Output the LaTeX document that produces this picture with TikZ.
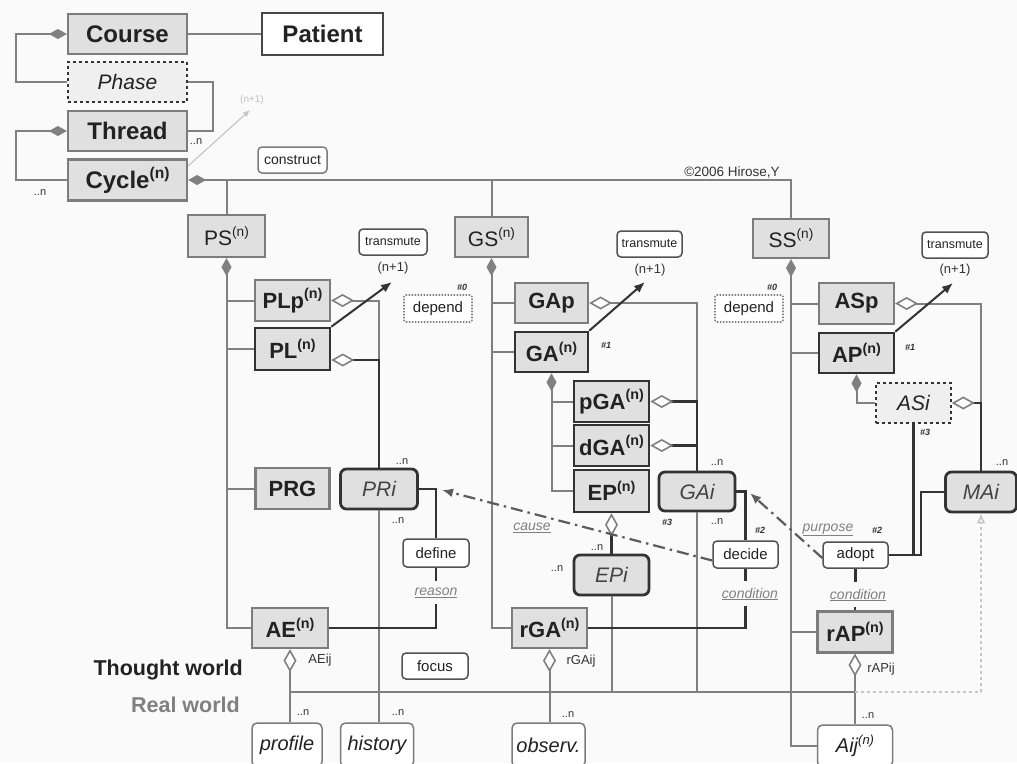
\documentclass[tikz,border=0pt]{standalone}
\usepackage{fontspec}
\setmainfont{Liberation Sans}
\usetikzlibrary{arrows.meta}
\definecolor{bg}{HTML}{FAFAFA}
\definecolor{boxfill}{HTML}{E0E0E0}
\definecolor{bdgray}{HTML}{7C7C7C}
\definecolor{dark}{HTML}{333333}
\definecolor{lgray}{HTML}{808080}
\definecolor{txt}{HTML}{222222}
\newcommand\supn{\raisebox{.42em}{\scalebox{.65}{(n)}}}
\tikzset{
  gbox/.style={rectangle, draw=bdgray, fill=boxfill, line width=2.2pt, inner sep=0pt, text=txt, font=\fontsize{22}{24}\selectfont\bfseries},
  dbox/.style={gbox, draw=dark, line width=2.6pt},
  rbox/.style={gbox, font=\fontsize{21}{23}\selectfont},
  ibox/.style={rectangle, rounded corners=6pt, draw=dark, line width=2.8pt, fill=boxfill, inner sep=0pt, text=txt!85, font=\fontsize{21}{23}\selectfont\itshape},
  wbox/.style={rectangle, rounded corners=5pt, draw=bdgray, line width=1.5pt, fill=white, inner sep=0pt, text=txt, font=\fontsize{20}{22}\selectfont\itshape},
  sbox/.style={rectangle, rounded corners=4pt, draw=dark!85, line width=1.5pt, fill=white, inner sep=0pt, text=txt, font=\fontsize{15}{16}\selectfont},
  dpbox/.style={sbox, rounded corners=2pt, draw=lgray, dash pattern=on 1.5pt off 1.5pt, line width=1.6pt},
  tline/.style={draw=lgray, line width=2pt},
  kline/.style={draw=dark, line width=2.8pt},
  fd/.style={-{Diamond[length=18pt,width=10pt,fill=lgray,color=lgray]}},
  od/.style={{Diamond[open,length=23pt,width=13pt,fill=white,color=lgray,line width=1.6pt]}-},
  nlab/.style={inner sep=0pt, text=dark, font=\fontsize{11}{11}\selectfont},
  hlab/.style={inner sep=0pt, text=dark, font=\fontsize{9}{9}\selectfont\bfseries\itshape},
  ulab/.style={inner sep=1pt, text=lgray, font=\fontsize{14}{15}\selectfont\itshape},
  ddot/.style={draw=dark!80, line width=2.2pt, dash pattern=on 12pt off 5pt on 2.5pt off 5pt, -{Latex[length=11pt,width=9pt]}},
  tarr/.style={draw=dark, line width=2pt, -{Latex[length=11pt,width=9pt]}},
}
\begin{document}
\begin{tikzpicture}[x=1pt,y=-1pt]
\fill[bg] (0,0) rectangle (1017,763);
\useasboundingbox (0,0) rectangle (1017,763);

% ---------- top left ----------
\node[gbox, font=\fontsize{24}{26}\selectfont\bfseries, minimum width=119pt, minimum height=40pt] (course) at (127.5,34) {Course};
\node[gbox, draw=dark!90, fill=white, font=\fontsize{24}{26}\selectfont\bfseries, minimum width=121pt, minimum height=42pt] (patient) at (322.5,34) {Patient};
\node[gbox, draw=dark, dashed, line width=1.6pt, fill=boxfill!50, font=\fontsize{21}{23}\selectfont\itshape, minimum width=119pt, minimum height=40pt] (phase) at (127.5,82) {Phase};
\node[gbox, font=\fontsize{24}{26}\selectfont\bfseries, minimum width=119pt, minimum height=40pt] (thread) at (127.5,131) {Thread};
\node[gbox, font=\fontsize{24}{26}\selectfont\bfseries, minimum width=119pt, minimum height=41pt] (cycle) at (127.5,180) {Cycle\supn};

\draw[tline] (course.east) -- (patient.west);
\draw[tline, fd] (phase.west) -- ++(-51,0) |- (course.west);
\draw[tline] (phase.east) -- ++(25,0) |- (thread.east);
\draw[tline, fd] (cycle.west) -- ++(-51,0) |- (thread.west);
\node[nlab] (n1) at (196,142) {..n};
\node[nlab] (n2) at (40,193) {..n};
\coordinate (cn1) at (250,110);
\draw[draw=gray!45, line width=1.2pt, -{Latex[length=7pt,width=6pt]}] ([yshift=14pt]cycle.east) -- (cn1);
\node[nlab, text=gray!50, font=\fontsize{10}{10}\selectfont] (cnl) at (252,100) {(n+1)};
\node[sbox, draw=bdgray, minimum width=69pt, minimum height=26pt, font=\fontsize{14}{15}\selectfont] (construct) at (292.5,160) {construct};
\node[inner sep=0pt, text=dark, font=\fontsize{13.5}{14}\selectfont] (copy) at (732,172) {©2006 Hirose,Y};

% ---------- stage boxes ----------
\node[rbox, minimum width=77pt, minimum height=42pt] (ps) at (226.5,236) {PS\supn};
\node[rbox, minimum width=73pt, minimum height=40pt] (gs) at (491.5,237) {GS\supn};
\node[rbox, minimum width=76pt, minimum height=39pt] (ss) at (791,238.5) {SS\supn};
\draw[tline, fd] (ss.north) |- (cycle.east);
\draw[tline] (ps.north) -- (ps.north |- cycle.east);
\draw[tline] (gs.north) -- (gs.north |- cycle.east);

% ---------- PS column ----------
\node[gbox, minimum width=75pt, minimum height=41pt] (plp) at (292.5,300.5) {PLp\supn};
\node[dbox, minimum width=75pt, minimum height=42pt] (pl) at (292.5,349) {PL\supn};
\node[gbox, minimum width=74pt, minimum height=41pt] (prg) at (292.5,488.5) {PRG};
\node[ibox, minimum width=77pt, minimum height=40pt] (pri) at (379,489) {PRi};
\node[gbox, minimum width=76pt, minimum height=40pt] (ae) at (290,628) {AE\supn};
\node[wbox, minimum width=70pt, minimum height=44pt] (profile) at (287,745) {profile};
\node[wbox, minimum width=73pt, minimum height=44pt] (history) at (377,745) {history};
\node[sbox, minimum width=66pt, minimum height=28pt] (define) at (436,553) {define};
\node[sbox, minimum width=66pt, minimum height=26pt] (focus) at (435,666) {focus};
\node[sbox, minimum width=68pt, minimum height=26pt, font=\fontsize{12.5}{14}\selectfont] (tr1) at (393,242) {transmute};
\node[dpbox, minimum width=68pt, minimum height=27pt] (dep1) at (438,308.5) {depend};
\node[ulab] (reason) at (436,593) {\underline{reason}};
\node[nlab, font=\fontsize{13}{14}\selectfont] (np1) at (393,268) {(n+1)};
\node[hlab] (h01) at (462,287) {\#0};

\draw[tline, fd] (ae.west) -| (ps.south);
\draw[tline] (plp.west) -- (plp.west -| ps.south);
\draw[tline] (pl.west) -- (pl.west -| ps.south);
\draw[tline] (prg.west) -- (prg.west -| ps.south);
\coordinate (pj) at (379,360);
\draw[tline, od] (plp.east) -| (pj);
\draw[kline, od] ([yshift=-11pt]pl.east) -- (pj) -- (pri.north);
\draw[tline] (pri.south) -- (pri.south |- history.north);
\draw[kline] (pri.east) -| (define.north);
\draw[kline] (define.south) -- ([yshift=6pt]reason.north);
\draw[kline] (ae.east) -| ([yshift=-5pt]reason.south);
\draw[tline, od] (ae.south) -- (ae.south |- profile.north);
\coordinate (t1a) at (392,282);
\draw[tarr] (pl.north east) -- (t1a);
\node[nlab] (n3) at (402,462) {..n};
\node[nlab] (n4) at (398,521) {..n};
\node[nlab] (n5) at (303,713) {..n};
\node[nlab] (n6) at (398,713) {..n};
\node[nlab, font=\fontsize{13}{14}\selectfont] (aeij) at (320,660) {AEij};

% ---------- GS column ----------
\node[gbox, minimum width=73pt, minimum height=40pt] (gap) at (551.5,303) {GAp};
\node[dbox, minimum width=73pt, minimum height=40pt] (ga) at (551.5,352) {GA\supn};
\node[dbox, minimum width=75pt, minimum height=41pt] (pga) at (611.5,401.5) {pGA\supn};
\node[dbox, minimum width=75pt, minimum height=41pt] (dga) at (611.5,445.5) {dGA\supn};
\node[dbox, minimum width=75pt, minimum height=42pt] (ep) at (611.5,491) {EP\supn};
\node[ibox, minimum width=76pt, minimum height=39pt] (gai) at (697,491.5) {GAi};
\node[ibox, minimum width=75pt, minimum height=40pt] (epi) at (611.5,575) {EPi};
\node[gbox, minimum width=75pt, minimum height=40pt] (rga) at (549.5,628) {rGA\supn};
\node[wbox, minimum width=73pt, minimum height=44pt] (observ) at (548.5,745) {observ.};
\node[sbox, minimum width=65pt, minimum height=27pt] (decide) at (745.5,554.5) {decide};
\node[sbox, minimum width=65pt, minimum height=26pt, font=\fontsize{12.5}{14}\selectfont] (tr2) at (649.5,244) {transmute};
\node[dpbox, minimum width=68pt, minimum height=27pt] (dep2) at (749,308.5) {depend};
\node[ulab] (cond1) at (750,594) {\underline{condition}};
\node[ulab] (cause) at (532,528) {\underline{cause}};
\node[nlab, font=\fontsize{13}{14}\selectfont] (np2) at (650,270) {(n+1)};
\node[hlab] (h02) at (772,287) {\#0};
\node[hlab] (h11) at (606,345) {\#1};
\node[hlab] (h31) at (667,522) {\#3};
\node[hlab] (h21) at (760,530) {\#2};

\coordinate (bl) at (290,692);
\coordinate (br) at (855,692);
\draw[tline] (bl) -- (br);

\draw[tline, fd] (rga.west) -| (gs.south);
\draw[tline] (gap.west) -- (gap.west -| gs.south);
\draw[tline] (ga.west) -- (ga.west -| gs.south);
\coordinate (gj) at (697,401.5);
\draw[tline, od] (gap.east) -| (gj);
\draw[kline, od] (pga.east) -- (gj) -- (gai.north);
\draw[kline, od] (dga.east) -- (dga.east -| gai.north);
\draw[tline, fd] (ep.west) -| (ga.south);
\draw[tline] (pga.west) -- (pga.west -| ga.south);
\draw[tline] (dga.west) -- (dga.west -| ga.south);
\draw[kline, od] (ep.south) -- (epi.north);
\draw[tline] (epi.south) -- (epi.south |- bl);
\draw[tline] (gai.south) -- (gai.south |- bl);
\draw[kline] (gai.east) -| (decide.north);
\draw[kline] (decide.south) -- ([yshift=6pt]cond1.north -| decide.south);
\draw[kline] (rga.east) -| ([yshift=-5pt]cond1.south -| decide.south);
\draw[tline, od] (rga.south) -- (rga.south |- observ.north);
\coordinate (t2a) at (645,282);
\draw[tarr] (ga.north east) -- (t2a);
\node[nlab] (n7) at (717,463) {..n};
\node[nlab] (n8) at (717,522) {..n};
\node[nlab] (n9) at (597,548) {..n};
\node[nlab] (n10) at (557,569) {..n};
\node[nlab] (n11) at (568,715) {..n};
\node[nlab, font=\fontsize{13}{14}\selectfont] (rgaij) at (581,661) {rGAij};

% ---------- SS column ----------
\node[gbox, minimum width=75pt, minimum height=41pt] (asp) at (856.5,303.5) {ASp};
\node[dbox, minimum width=75pt, minimum height=40pt] (ap) at (856.5,353) {AP\supn};
\node[gbox, draw=dark, dashed, line width=1.6pt, fill=boxfill!50, font=\fontsize{21}{23}\selectfont\itshape, minimum width=75pt, minimum height=40pt] (asi) at (913.5,403) {ASi};
\node[ibox, minimum width=71pt, minimum height=40pt] (mai) at (981,492) {MAi};
\node[sbox, minimum width=65pt, minimum height=26pt] (adopt) at (855.5,555) {adopt};
\node[gbox, line width=3pt, minimum width=75pt, minimum height=41pt] (rap) at (855,631.5) {rAP\supn};
\node[wbox, minimum width=75pt, minimum height=42pt] (aij) at (855,746) {Aij\supn};
\node[sbox, minimum width=66pt, minimum height=26pt, font=\fontsize{12.5}{14}\selectfont] (tr3) at (955,245) {transmute};
\node[ulab] (cond2) at (858,595) {\underline{condition}};
\node[ulab] (purpose) at (828,530) {\underline{purpose}};
\node[nlab, font=\fontsize{13}{14}\selectfont] (np3) at (955,270) {(n+1)};
\node[hlab] (h12) at (910,347) {\#1};
\node[hlab] (h32) at (925,432) {\#3};
\node[hlab] (h22) at (877,530) {\#2};

\draw[tline, fd] (aij.west) -| (ss.south);
\draw[tline] (asp.west) -- (asp.west -| ss.south);
\draw[tline] (ap.west) -- (ap.west -| ss.south);
\draw[tline] (rap.west) -- (rap.west -| ss.south);
\coordinate (mj) at (981,403);
\draw[tline, od] (asp.east) -| (mj);
\draw[kline, od] (asi.east) -- (mj) -- (mai.north);
\draw[tline, fd] (asi.west) -| (ap.south);
\draw[kline] (asi.south) |- (adopt.east);
\coordinate (aj) at (921,555);
\draw[kline] (mai.west) -| (aj) -- (adopt.east);
\draw[kline] (adopt.south) -- ([yshift=6pt]cond2.north -| adopt.south);
\draw[kline] (rap.north) -- ([yshift=-5pt]cond2.south -| rap.north);
\draw[tline, od] (rap.south) -- (aij.north);
\draw[draw=gray!45, line width=1.5pt, dashed, -{Latex[open,length=10pt,width=9pt]}] (br) -- (mai.south |- br) -- (mai.south);
\coordinate (t3a) at (953,283);
\draw[tarr] (ap.north east) -- (t3a);
\node[nlab] (n12) at (1002,463) {..n};
\node[nlab] (n13) at (868,716) {..n};
\node[nlab, font=\fontsize{13}{14}\selectfont] (rapij) at (881,669) {rAPij};

% ---------- dash-dot arrows ----------
\coordinate (a1) at (442,490);
\draw[ddot] ([yshift=-6pt]decide.west) -- (a1);
\coordinate (a2) at (750,493);
\draw[ddot] ([yshift=-3pt]adopt.west) -- (a2);

% ---------- worlds ----------
\node[anchor=east, inner sep=0pt, text=txt, font=\fontsize{21.5}{23}\selectfont\bfseries] (tw) at (243,670) {Thought world};
\node[anchor=east, inner sep=0pt, text=gray, font=\fontsize{21.5}{23}\selectfont\bfseries] (rw) at (240,705) {Real world};
\end{tikzpicture}
\end{document}
